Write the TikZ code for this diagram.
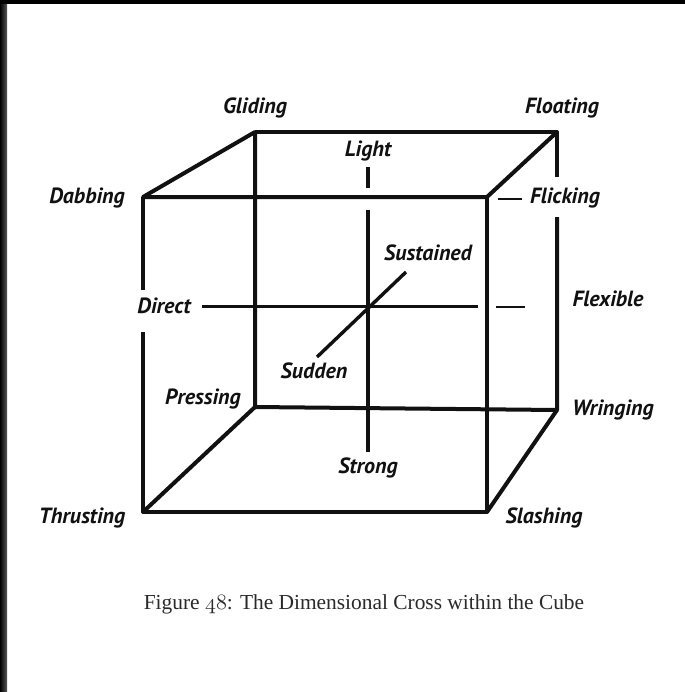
\documentclass[tikz,border=0pt]{standalone}
\usepackage{fontspec}
\setsansfont{PT Sans}
\newfontfamily\captionfont{Liberation Serif}
\usepackage{tikz}
\usetikzlibrary{calc}
\definecolor{inkblack}{HTML}{111111}
\definecolor{captiongray}{HTML}{2a2a2a}
\definecolor{scanstrip}{HTML}{2f2f2f}

\begin{document}
\begin{tikzpicture}[x=0.5pt,y=-0.5pt,
  cubeline/.style={line width=2pt, line join=round, draw=inkblack},
  axisline/.style={line width=1.7pt, draw=inkblack},
  tickline/.style={line width=1pt, draw=inkblack},
  lbl/.style={font=\sffamily\bfseries\itshape\fontsize{11}{13}\selectfont, text=inkblack, inner sep=0pt, anchor=mid}]
  \useasboundingbox[fill=white] (0,0) rectangle (685,692);
  % scan edges
  \fill[black] (0,0) rectangle (685,4);
  \shade[left color=black, right color=scanstrip!80] (0,4) rectangle (7,692);
  % corners of the cube
  \coordinate (dab) at (143,197);
  \coordinate (flk) at (487,197);
  \coordinate (thr) at (143,512);
  \coordinate (sla) at (487,512);
  \coordinate (gli) at (255,132);
  \coordinate (flo) at (557,132);
  \coordinate (pre) at (255,407);
  \coordinate (wri) at (557,410);
  % gaps left for labels
  \coordinate (dabgap) at (143,290);
  \coordinate (thrgap) at (143,332);
  \coordinate (flogap) at (557,177);
  \coordinate (wrigap) at (557,217);
  \draw[cubeline] (gli) -- (flo) -- (flogap);
  \draw[cubeline] (wrigap) -- (wri) -- (pre) -- (gli) -- (dab) -- (flk) -- (flo);
  \draw[cubeline] (dab) -- (dabgap);
  \draw[cubeline] (thrgap) -- (thr) -- (sla) -- (flk);
  \draw[cubeline] (thr) -- (pre);
  \draw[cubeline] (sla) -- (wri);
  % labels
  \foreach \n/\x/\y/\t in {gliding/255/109/Gliding, floating/562/109/Floating,
      light/368/152/Light, dabbing/87/199/Dabbing, flicking/565/199/Flicking,
      sustained/428/256/Sustained, direct/164/309/Direct, flexible/608/302/Flexible,
      sudden/314/374/Sudden, pressing/203/400/Pressing, wringing/613/411/Wringing,
      strong/368/469/Strong, thrusting/82/519/Thrusting, slashing/544/519/Slashing}
    \node[lbl] (\n) at (\x,\y) {\t};
  % the dimensional cross
  \coordinate (lighta) at (368,167);
  \coordinate (lightb) at (368,188);
  \coordinate (vtop) at (368,210);
  \coordinate (vbot) at (368,452);
  \coordinate (hleft) at (202,306);
  \coordinate (hright) at (478,306);
  \coordinate (flexa) at (496,307);
  \coordinate (flexb) at (525,307);
  \coordinate (sudd) at (317,357);
  \coordinate (sust) at (406,272);
  \coordinate (flka) at (498,199);
  \coordinate (flkb) at (522,199);
  \draw[axisline] (lighta) -- (lightb);
  \draw[axisline] (vtop) -- (vbot);
  \draw[axisline, line width=1.5pt] (hleft) -- (hright);
  \draw[tickline, line width=1.3pt] (flexa) -- (flexb);
  \draw[axisline] (sudd) -- (sust);
  \draw[tickline] (flka) -- (flkb);
  \node[font=\captionfont\fontsize{10.7}{12}\selectfont, text=captiongray] (caption) at (364,604)
    {Figure {\usefont{OML}{cmm}{m}{it}48}: The Dimensional Cross within the Cube};
\end{tikzpicture}
\end{document}
